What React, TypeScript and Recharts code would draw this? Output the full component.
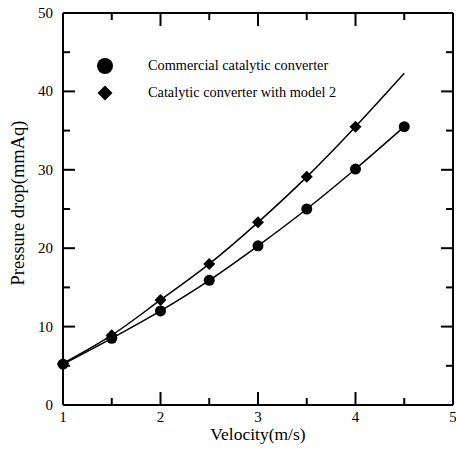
import React from 'react';
import { ComposedChart, Line, XAxis, YAxis, ReferenceLine } from 'recharts';

const velocity = [1, 1.5, 2, 2.5, 3, 3.5, 4, 4.5];
const commercial = [5.2, 8.5, 12.0, 15.9, 20.3, 25.0, 30.1, 35.5];
const model2 = [5.3, 8.9, 13.4, 18.0, 23.3, 29.1, 35.5, null];
const model2Fit = [5.3, 8.9, 13.4, 18.0, 23.3, 29.1, 35.5, 42.3];
const xTicks = [1, 1.5, 2, 2.5, 3, 3.5, 4, 4.5, 5];
const yTicks = [0, 5, 10, 15, 20, 25, 30, 35, 40, 45, 50];
const seriesNames = ['Commercial catalytic converter', 'Catalytic converter with model 2'];
const xTitle = 'Velocity(m/s)';
const yTitle = 'Pressure drop(mmAq)';

const data = velocity.map((v, i) => ({
  v,
  commercial: commercial[i],
  model2: model2[i],
  model2Fit: model2Fit[i],
}));

const FONT = '"Liberation Serif", "Times New Roman", serif';

// chart layout
const W = 456;
const H = 453;
const MARGIN = { top: 13, right: 3, left: 0, bottom: 0 };
const X_AXIS_H = 48;
const Y_AXIS_W = 63;
const PLOT_W = W - MARGIN.left - MARGIN.right - Y_AXIS_W;
const PLOT_H = H - MARGIN.top - MARGIN.bottom - X_AXIS_H;

const isMajorX = (v: number) => Number.isInteger(v);
const isMajorY = (v: number) => v % 10 === 0;

// bottom axis tick: inward mark at bottom and mirrored mark at top of frame
const bottomTick = (p: any) => {
  const len = isMajorX(p.payload.value) ? 13 : 7;
  const top = p.y - PLOT_H;
  return (
    <g key={`b-${p.index}`}>
      <line x1={p.x} y1={p.y} x2={p.x} y2={p.y - len} stroke="#000" strokeWidth={2} />
      <line x1={p.x} y1={top} x2={p.x} y2={top + len} stroke="#000" strokeWidth={2} />
      {isMajorX(p.payload.value) && (
        <text x={p.x} y={p.y + 17} textAnchor="middle" fontFamily={FONT} fontSize={15} fill="#000">
          {p.payload.value}
        </text>
      )}
    </g>
  );
};

// left axis tick: inward mark at left and mirrored mark at right of frame
const leftTick = (p: any) => {
  const len = isMajorY(p.payload.value) ? 12 : 7;
  const right = p.x + PLOT_W;
  return (
    <g key={`l-${p.index}`}>
      <line x1={p.x} y1={p.y} x2={p.x + len} y2={p.y} stroke="#000" strokeWidth={2} />
      <line x1={right} y1={p.y} x2={right - len} y2={p.y} stroke="#000" strokeWidth={2} />
      {isMajorY(p.payload.value) && (
        <text x={p.x - 10} y={p.y + 5} textAnchor="end" fontFamily={FONT} fontSize={15} fill="#000">
          {p.payload.value}
        </text>
      )}
    </g>
  );
};

const circleDot = (p: any) => {
  if (p.cx == null || p.cy == null) return <g key={`c-${p.index}`} />;
  return <circle key={`c-${p.index}`} cx={p.cx} cy={p.cy} r={5.5} fill="#000" />;
};

const diamondDot = (p: any) => {
  const { cx, cy, index, payload } = p;
  if (cx == null || cy == null || payload.model2 == null) return <g key={`d-${index}`} />;
  const s = 6;
  return (
    <path
      key={`d-${index}`}
      d={`M${cx},${cy - s}L${cx + s},${cy}L${cx},${cy + s}L${cx - s},${cy}Z`}
      fill="#000"
    />
  );
};

const LegendBox = () => (
  <div style={{ position: 'absolute', left: 96, top: 52, fontFamily: FONT, fontSize: 14.3, color: '#000' }}>
    {seriesNames.map((name, i) => (
      <div key={name} style={{ display: 'flex', alignItems: 'center', height: 27, whiteSpace: 'nowrap' }}>
        <svg width={18} height={18}>
          {i === 0 ? (
            <circle cx={9} cy={9} r={8} fill="#000" />
          ) : (
            <path d="M9,1.5L16.5,9L9,16.5L1.5,9Z" fill="#000" />
          )}
        </svg>
        <span style={{ marginLeft: 34 }}>{name}</span>
      </div>
    ))}
  </div>
);

export default function App() {
  return (
    <div style={{ position: 'absolute', left: 0, top: 0, width: W, height: H, background: '#fff' }}>
      <ComposedChart width={W} height={H} data={data} margin={MARGIN}>
        <XAxis
          dataKey="v"
          type="number"
          domain={[1, 5]}
          ticks={xTicks}
          interval={0}
          height={X_AXIS_H}
          tickSize={1e-6}
          tickMargin={0}
          tickLine={false}
          tick={bottomTick}
          axisLine={{ stroke: '#000', strokeWidth: 2 }}
        />
        <YAxis
          type="number"
          domain={[0, 50]}
          ticks={yTicks}
          interval={0}
          width={Y_AXIS_W}
          tickSize={1e-6}
          tickMargin={0}
          tickLine={false}
          tick={leftTick}
          axisLine={{ stroke: '#000', strokeWidth: 2 }}
        />
        <ReferenceLine y={50} stroke="#000" strokeWidth={2} />
        <ReferenceLine x={5} stroke="#000" strokeWidth={2} />
        <Line
          dataKey="model2Fit"
          type="monotone"
          stroke="#000"
          strokeWidth={1.5}
          dot={diamondDot}
          activeDot={false}
          isAnimationActive={false}
          name={seriesNames[1]}
        />
        <Line
          dataKey="commercial"
          type="monotone"
          stroke="#000"
          strokeWidth={1.5}
          dot={circleDot}
          activeDot={false}
          isAnimationActive={false}
          name={seriesNames[0]}
        />
      </ComposedChart>
      <LegendBox />
      <div
        style={{
          position: 'absolute',
          left: 158,
          top: 424,
          width: 200,
          textAlign: 'center',
          fontFamily: FONT,
          fontSize: 17.5,
          lineHeight: '20px',
          color: '#000',
        }}
      >
        {xTitle}
      </div>
      <div
        style={{
          position: 'absolute',
          left: 18,
          top: 203,
          transform: 'translate(-50%, -50%) rotate(-90deg)',
          whiteSpace: 'nowrap',
          fontFamily: FONT,
          fontSize: 18.5,
          lineHeight: '20px',
          color: '#000',
        }}
      >
        {yTitle}
      </div>
    </div>
  );
}
